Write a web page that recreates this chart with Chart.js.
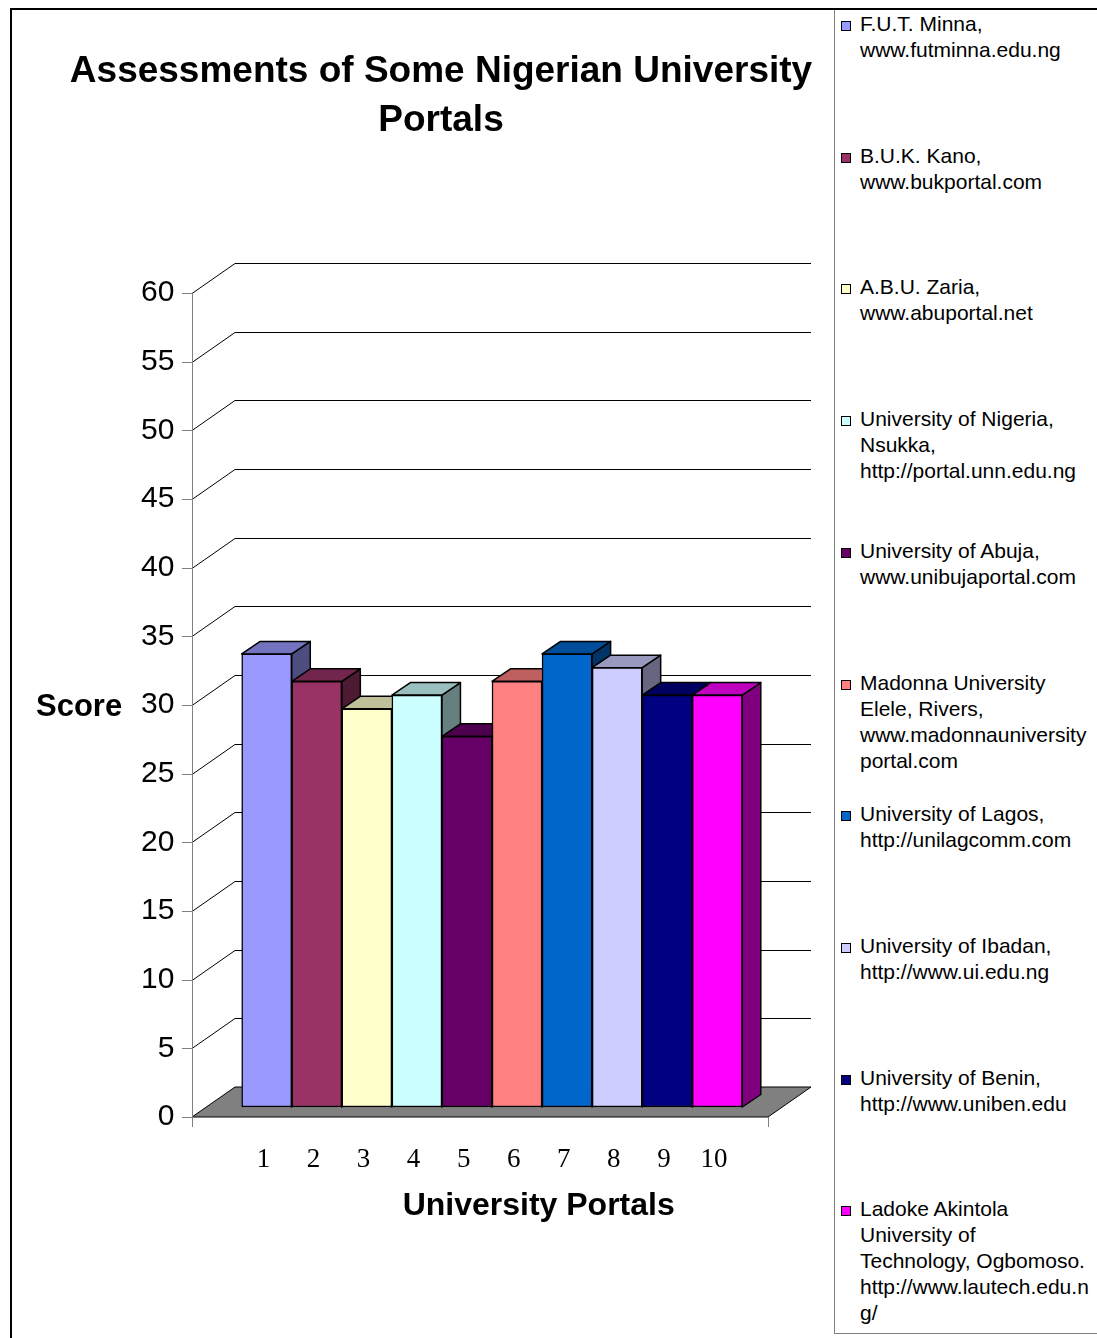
<!DOCTYPE html>
<html>
<head>
    <title>Assessments of Some Nigerian University Portals</title>
    <script src="https://cdn.jsdelivr.net/npm/chart.js"></script>
    <style>
        body {
            margin: 0;
            background: #fff;
            overflow: hidden;
            font-family: "Liberation Sans", Arial, sans-serif;
        }
        #grafico {
            position: absolute;
            left: 0;
            top: 0;
        }
        #moldura {
            position: absolute;
            left: 10px;
            top: 8px;
            width: 1200px;
            height: 1400px;
            border-top: 2px solid #000;
            border-left: 2px solid #000;
            pointer-events: none;
            z-index: 3;
        }
        #legenda {
            position: absolute;
            left: 834px;
            top: 8px;
            width: 300px;
            height: 1325px;
            border-left: 1px solid #808080;
            border-bottom: 1px solid #808080;
            background: #fff;
            z-index: 2;
        }
        .item {
            position: absolute;
            left: 0;
            font-size: 21px;
            line-height: 26px;
            color: #000;
            white-space: nowrap;
        }
        .item .cor {
            position: absolute;
            left: 6px;
            top: 10px;
            width: 8px;
            height: 8px;
            border: 1px solid #000;
        }
        .item .texto {
            margin-left: 25px;
        }
    </style>
</head>
<body>
    <canvas id="grafico" width="882" height="1338"></canvas>
    <div id="legenda"></div>
    <div id="moldura"></div>

    <script>
        // dados
        const portais = [
            ['F.U.T. Minna,', 'www.futminna.edu.ng'],
            ['B.U.K. Kano,', 'www.bukportal.com'],
            ['A.B.U. Zaria,', 'www.abuportal.net'],
            ['University of Nigeria,', 'Nsukka,', 'http://portal.unn.edu.ng'],
            ['University of Abuja,', 'www.unibujaportal.com'],
            ['Madonna University', 'Elele, Rivers,', 'www.madonnauniversity', 'portal.com'],
            ['University of Lagos,', 'http://unilagcomm.com'],
            ['University of Ibadan,', 'http://www.ui.edu.ng'],
            ['University of Benin,', 'http://www.uniben.edu'],
            ['Ladoke Akintola', 'University of', 'Technology, Ogbomoso.', 'http://www.lautech.edu.n', 'g/']
        ];
        const rotulos = ['1', '2', '3', '4', '5', '6', '7', '8', '9', '10'];
        const notas = [33, 31, 29, 30, 27, 31, 33, 32, 30, 30];
        const cores = ['#9999FF', '#993366', '#FFFFCC', '#CCFFFF', '#660066',
                       '#FF8080', '#0066CC', '#CCCCFF', '#000080', '#FF00FF'];
        const titulo = ['Assessments of Some Nigerian University', 'Portals'];
        const yMin = 0, yMax = 60, yPasso = 5;

        const fonteSans = '"Liberation Sans", Arial, sans-serif';
        const fonteSerif = '"Liberation Serif", "Times New Roman", serif';

        // profundidade do "3D" (em pixels)
        const PROF_X = 43, PROF_Y = -30;       // chao / paredes
        const FRENTE_X = 14.3, FRENTE_Y = -10; // face frontal das barras
        const BARRA_X = 18.5, BARRA_Y = -12.5; // espessura das barras
        const MARGEM_ESQ = 35.4, MARGEM_DIR = 40;

        function escurecer(hex, f) {
            const n = parseInt(hex.slice(1), 16);
            const r = Math.round(((n >> 16) & 255) * f);
            const g = Math.round(((n >> 8) & 255) * f);
            const b = Math.round((n & 255) * f);
            return `rgb(${r},${g},${b})`;
        }

        function poligono(ctx, pts, preenchimento) {
            ctx.beginPath();
            ctx.moveTo(pts[0][0], pts[0][1]);
            for (let i = 1; i < pts.length; i++) ctx.lineTo(pts[i][0], pts[i][1]);
            ctx.closePath();
            ctx.fillStyle = preenchimento;
            ctx.fill();
            ctx.stroke();
        }

        const efeito3d = {
            id: 'efeito3d',
            beforeDatasetsDraw(chart) {
                const { ctx, chartArea, scales } = chart;
                const y = scales.y;
                const esq = chartArea.left - MARGEM_ESQ;
                const dir = chartArea.right + MARGEM_DIR;
                const y0 = y.getPixelForValue(0);

                ctx.save();
                // paredes (linhas de grade)
                ctx.strokeStyle = '#000';
                ctx.lineWidth = 1;
                y.ticks.forEach(t => {
                    if (t.value === 0) return;
                    const py = Math.round(y.getPixelForValue(t.value)) + 0.5;
                    ctx.beginPath();
                    ctx.moveTo(esq, py);
                    ctx.lineTo(esq + PROF_X, py + PROF_Y);
                    ctx.lineTo(dir + PROF_X, py + PROF_Y);
                    ctx.stroke();
                });

                // chao
                poligono(ctx, [[esq, y0], [dir, y0], [dir + PROF_X, y0 + PROF_Y], [esq + PROF_X, y0 + PROF_Y]], '#808080');

                // eixo y e marcas
                ctx.strokeStyle = '#808080';
                ctx.beginPath();
                ctx.moveTo(esq + 0.5, y.getPixelForValue(yMax));
                ctx.lineTo(esq + 0.5, y0 + 10);
                y.ticks.forEach(t => {
                    const py = Math.round(y.getPixelForValue(t.value)) + 0.5;
                    ctx.moveTo(esq - 10, py);
                    ctx.lineTo(esq, py);
                });
                ctx.moveTo(dir + 0.5, y0);
                ctx.lineTo(dir + 0.5, y0 + 10);
                ctx.stroke();

                // laterais e topos das barras
                ctx.translate(FRENTE_X, FRENTE_Y);
                ctx.strokeStyle = '#000';
                ctx.lineWidth = 1.5;
                ctx.lineJoin = 'round';
                const meta = chart.getDatasetMeta(0);
                meta.data.forEach((barra, i) => {
                    const p = barra.getProps(['x', 'y', 'base', 'width'], true);
                    const x1 = p.x - p.width / 2, x2 = p.x + p.width / 2;
                    poligono(ctx, [[x2, p.y], [x2 + BARRA_X, p.y + BARRA_Y], [x2 + BARRA_X, p.base + BARRA_Y], [x2, p.base]], escurecer(cores[i], 0.5));
                    poligono(ctx, [[x1, p.y], [x1 + BARRA_X, p.y + BARRA_Y], [x2 + BARRA_X, p.y + BARRA_Y], [x2, p.y]], escurecer(cores[i], 0.75));
                });
                // o translate continua para as faces frontais
            },
            afterDatasetsDraw(chart) {
                chart.ctx.restore();
            },
            afterDraw(chart) {
                const { ctx, chartArea } = chart;
                ctx.save();
                ctx.fillStyle = '#000';
                ctx.font = 'bold 31px ' + fonteSans;
                ctx.textBaseline = 'middle';
                ctx.textAlign = 'left';
                ctx.fillText('Score', 36, (chartArea.top + chartArea.bottom) / 2 + 2);
                ctx.textAlign = 'center';
                ctx.font = 'bold 32px ' + fonteSans;
                ctx.fillText('University Portals', (chartArea.left + chartArea.right) / 2 + 61, chartArea.bottom + 89);
                ctx.restore();
            }
        };

        // legenda em html
        const legenda = document.getElementById('legenda');
        portais.forEach((linhas, i) => {
            const item = document.createElement('div');
            item.className = 'item';
            item.style.top = (3 + i * 131.7) + 'px';
            const cor = document.createElement('span');
            cor.className = 'cor';
            cor.style.background = cores[i];
            const texto = document.createElement('div');
            texto.className = 'texto';
            texto.innerHTML = linhas.join('<br>');
            item.appendChild(cor);
            item.appendChild(texto);
            legenda.appendChild(item);
        });

        const canvas = document.getElementById('grafico');
        const grafico = new Chart(canvas.getContext('2d'), {
            type: 'bar',
            data: {
                labels: rotulos,
                datasets: [{
                    data: notas,
                    backgroundColor: cores,
                    borderColor: '#000',
                    borderWidth: 1.5,
                    borderSkipped: false,
                    categoryPercentage: 1,
                    barPercentage: 1,
                    clip: false
                }]
            },
            options: {
                responsive: false,
                animation: false,
                devicePixelRatio: 1,
                layout: {
                    padding: { left: 0, right: 0, top: 0, bottom: 161 }
                },
                plugins: {
                    legend: { display: false },
                    tooltip: { enabled: false },
                    title: {
                        display: true,
                        text: titulo,
                        color: '#000',
                        font: { family: fonteSans, size: 37, weight: 'bold', lineHeight: 1.32 },
                        padding: { top: 47.5, bottom: 148 }
                    }
                },
                scales: {
                    x: {
                        grid: { display: false, drawTicks: false },
                        border: { display: false },
                        ticks: {
                            color: '#000',
                            font: { family: fonteSerif, size: 27 },
                            padding: 27,
                            labelOffset: 11,
                            maxRotation: 0
                        },
                        afterFit(escala) { escala.height = 60; }
                    },
                    y: {
                        min: yMin,
                        max: yMax,
                        grid: { display: false, drawTicks: false },
                        border: { display: false },
                        ticks: {
                            stepSize: yPasso,
                            color: '#000',
                            font: { family: fonteSans, size: 30 },
                            padding: 53
                        },
                        afterFit(escala) { escala.width = 227.4; }
                    },
                    // eixo vazio a direita: reserva o espaco ate a legenda
                    lado: {
                        type: 'linear',
                        position: 'right',
                        grid: { display: false, drawTicks: false },
                        border: { display: false },
                        ticks: { display: false },
                        afterFit(escala) { escala.width = 154; }
                    }
                }
            },
            plugins: [efeito3d]
        });
    </script>
</body>
</html>
